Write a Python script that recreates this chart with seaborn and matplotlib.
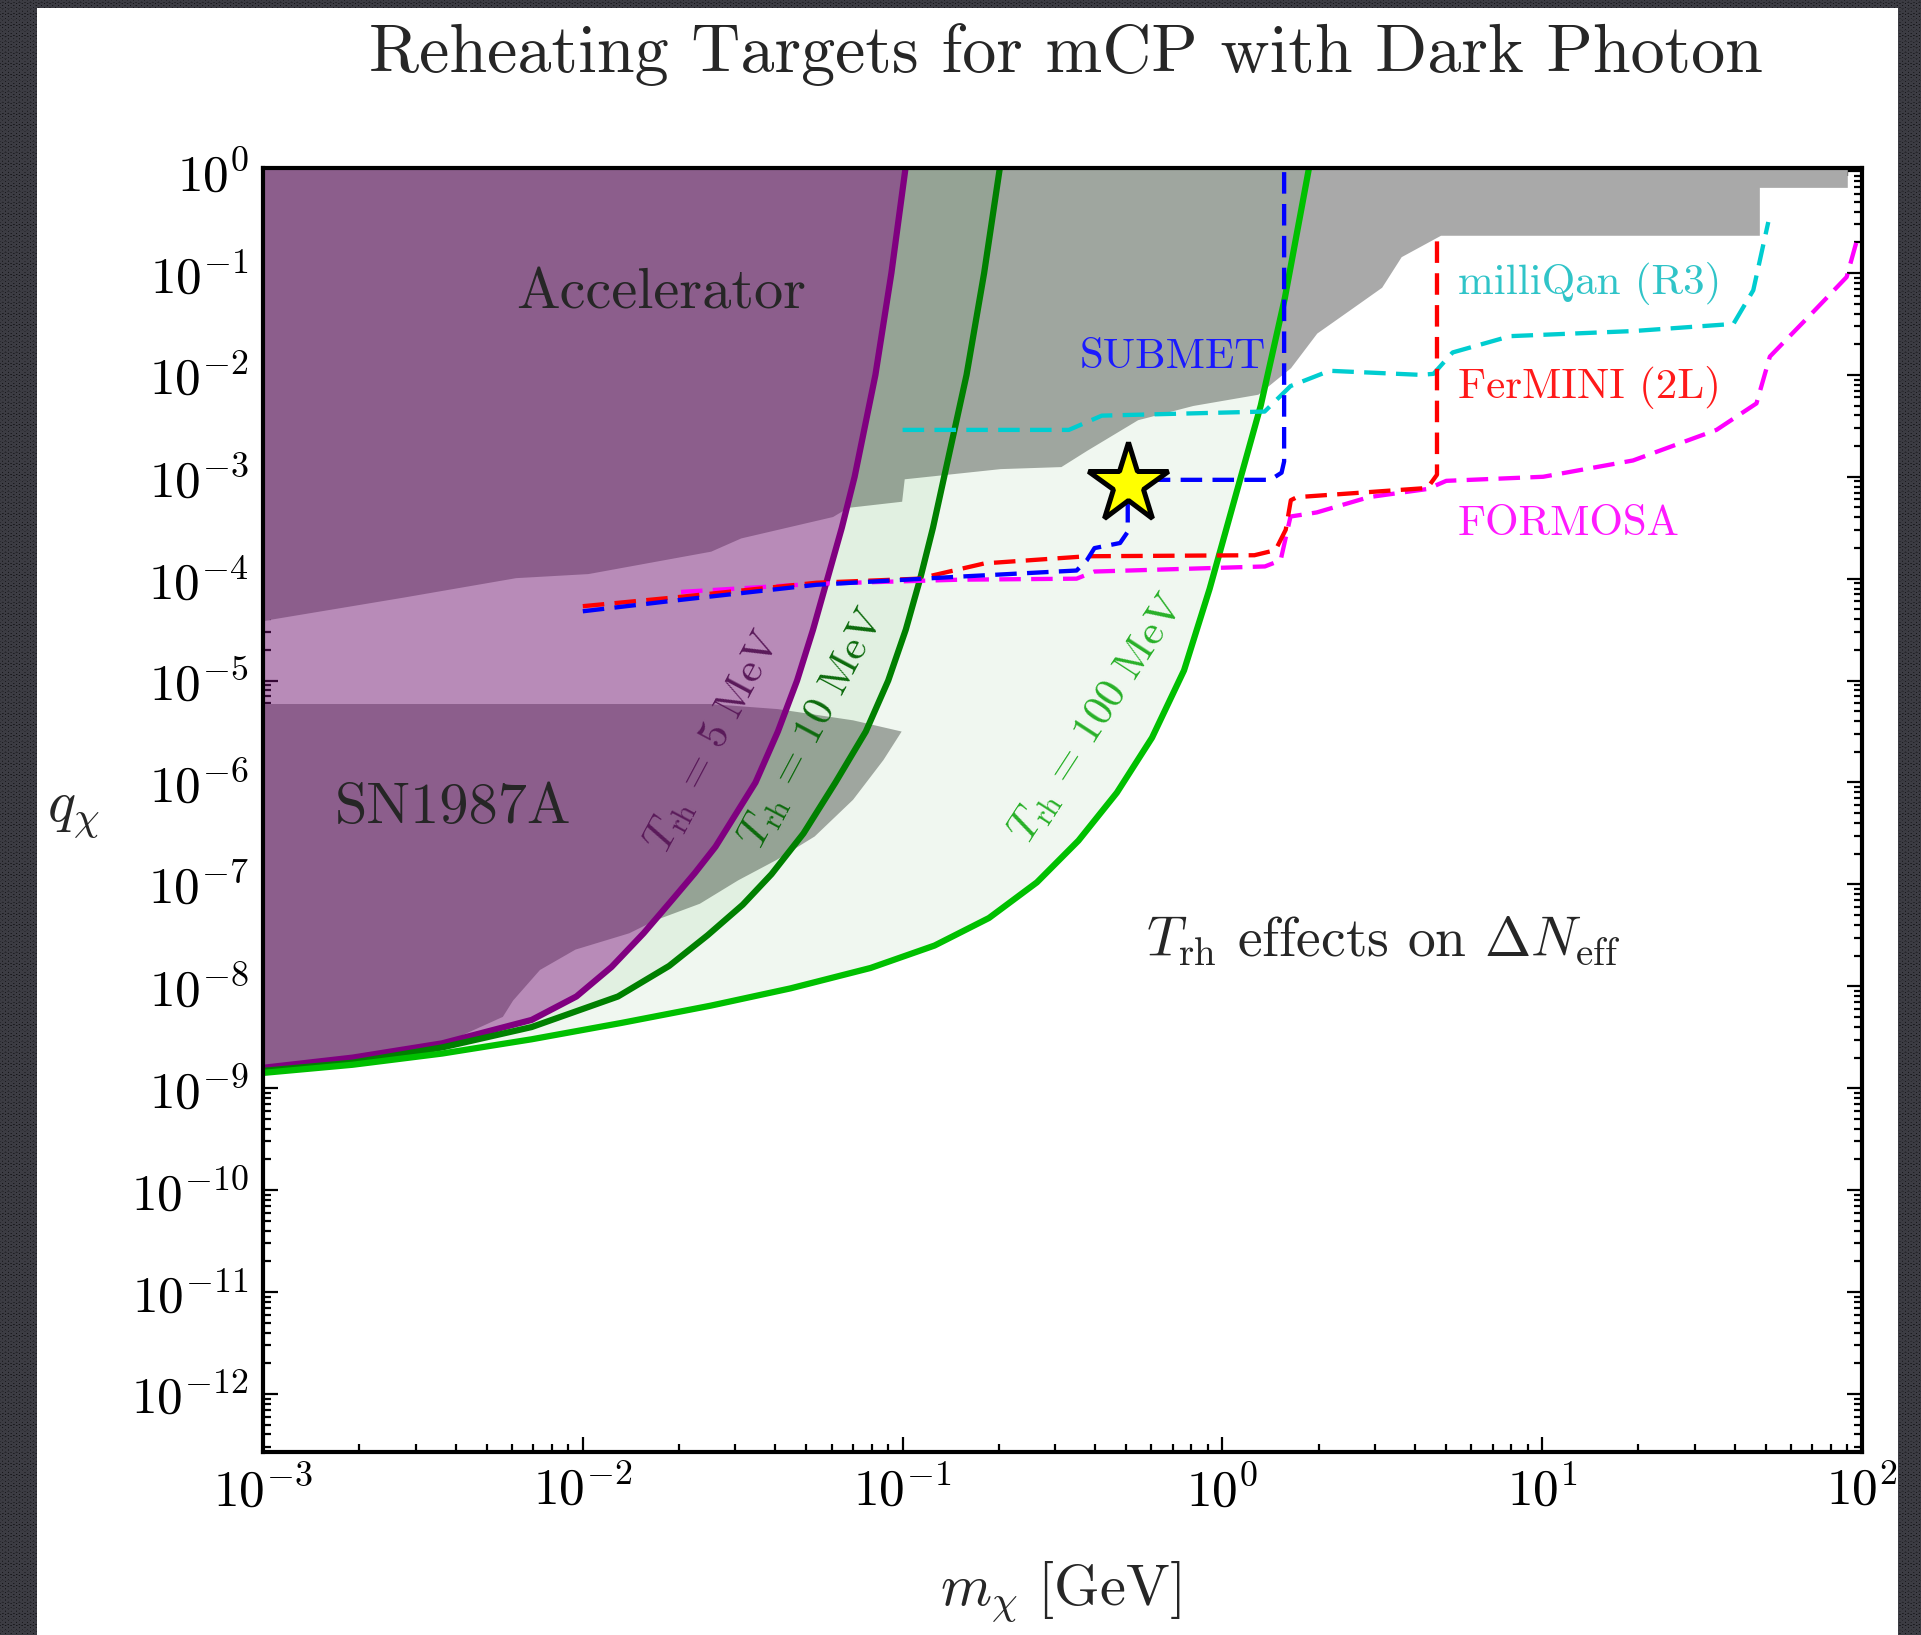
import numpy as np
import pandas as pd
import matplotlib
matplotlib.use("Agg")
import matplotlib.pyplot as plt
import seaborn as sns
from matplotlib.patches import Rectangle
from matplotlib.ticker import LogLocator, NullFormatter

# ---------------- data (log10 of m_chi [GeV], log10 of q_chi) ----------------
# Reheating-temperature contours
trh5_logm = [-3.0, -2.72, -2.44, -2.16, -2.02, -1.91, -1.81, -1.72, -1.65, -1.585,
             -1.46, -1.39, -1.33, -1.28, -1.235, -1.19, -1.15, -1.085, -1.035, -0.99]
trh5_logq = [-8.80, -8.70, -8.56, -8.33, -8.10, -7.81, -7.48, -7.15, -6.89, -6.63,
             -6.00, -5.50, -5.00, -4.50, -4.00, -3.50, -3.00, -2.00, -1.00, 0.05]

trh10_logm = [-3.0, -2.72, -2.44, -2.16, -1.89, -1.73, -1.61, -1.50, -1.41, -1.31,
              -1.21, -1.115, -1.045, -0.99, -0.945, -0.905, -0.87, -0.80, -0.745, -0.695]
trh10_logq = [-8.83, -8.75, -8.60, -8.40, -8.10, -7.80, -7.50, -7.20, -6.90, -6.50,
              -6.00, -5.50, -5.00, -4.50, -4.00, -3.50, -3.00, -2.00, -1.00, 0.05]

trh100_logm = [-3.0, -2.72, -2.44, -2.16, -1.88, -1.60, -1.35, -1.10, -0.90, -0.73,
               -0.58, -0.45, -0.33, -0.22, -0.12, -0.04, 0.04, 0.12, 0.195, 0.272]
trh100_logq = [-8.85, -8.77, -8.66, -8.52, -8.36, -8.19, -8.02, -7.82, -7.60, -7.33,
               -6.98, -6.57, -6.10, -5.56, -4.90, -4.10, -3.20, -2.30, -1.25, 0.05]

# Accelerator exclusion: lower boundary (filled up to the top)
acc_logm = [-3.0, -2.56, -2.21, -1.984, -1.60, -1.506, -1.219, -1.171, -1.003, -0.995,
            -0.695, -0.505, -0.424, -0.265, -0.092, 0.111, 0.213, 0.295, 0.417, 0.498,
            0.559, 0.682, 1.679, 1.679, 1.954]
acc_logq = [-4.41, -4.18, -3.99, -3.95, -3.73, -3.60, -3.39, -3.30, -3.24, -3.02,
            -2.92, -2.90, -2.74, -2.44, -2.30, -2.19, -1.93, -1.59, -1.32, -1.14,
            -0.84, -0.63, -0.63, -0.16, -0.16]

# SN1987A exclusion outline
sn_logm = [-3.0, -1.602, -1.39, -1.155, -1.003, -1.06, -1.155, -1.275, -1.394, -1.514,
           -1.634, -1.771, -1.855, -2.023, -2.134, -2.218, -2.25, -2.44, -2.72, -3.0]
sn_logq = [-5.23, -5.23, -5.28, -5.39, -5.50, -5.78, -6.17, -6.53, -6.76, -6.96,
           -7.19, -7.35, -7.48, -7.64, -7.84, -8.14, -8.30, -8.57, -8.70, -8.80]

# Projected sensitivities
submet_logm = [-2.0, -1.70, -1.27, -0.823, -0.456, -0.424, -0.40, -0.32, -0.296, -0.296,
               0.15, 0.185, 0.193, 0.193]
submet_logq = [-4.32, -4.21, -4.06, -3.98, -3.92, -3.82, -3.70, -3.65, -3.54, -3.03,
               -3.03, -2.96, -2.85, 0.03]

fermini_logm = [-2.0, -1.70, -1.27, -0.95, -0.744, -0.424, 0.10, 0.166, 0.198, 0.214,
                0.233, 0.641, 0.671, 0.671]
fermini_logq = [-4.27, -4.18, -4.04, -4.00, -3.85, -3.78, -3.77, -3.72, -3.52, -3.23,
                -3.20, -3.11, -2.98, -0.67]

formosa_logm = [-1.693, -1.27, -0.823, -0.456, -0.40, 0.133, 0.182, 0.213, 0.295, 0.458,
                0.641, 0.70, 1.003, 1.284, 1.545, 1.67, 1.712, 1.842, 1.952, 1.984]
formosa_logq = [-4.13, -4.05, -4.01, -4.00, -3.93, -3.88, -3.82, -3.39, -3.35, -3.20,
                -3.12, -3.04, -3.00, -2.84, -2.54, -2.28, -1.82, -1.40, -1.04, -0.68]

milliqan_logm = [-1.0, -0.48, -0.377, 0.132, 0.213, 0.335, 0.62, 0.66, 0.72, 0.90,
                 1.285, 1.598, 1.66, 1.707]
milliqan_logq = [-2.54, -2.54, -2.40, -2.36, -2.11, -1.96, -2.0, -1.99, -1.78, -1.62,
                 -1.57, -1.50, -1.17, -0.50]

star_logm = [-0.296]
star_logq = [-3.07]

x_ticks_log = [-3, -2, -1, 0, 1, 2]
y_ticks_log = list(range(-12, 1))

# ---------------- style ----------------
sns.set_theme(style="ticks")
plt.rcParams.update({
    "font.family": "serif",
    "font.serif": ["cmr10", "DejaVu Serif"],
    "mathtext.fontset": "cm",
    "axes.formatter.use_mathtext": True,
    "axes.unicode_minus": False,
    "hatch.linewidth": 1.4,
})

W, H = 1921, 1635
fig = plt.figure(figsize=(W / 100, H / 100), dpi=100)
fig.patch.set_facecolor("white")

# dark textured frame
for (x0, y0, w, h) in [(0, 0, 37, H), (0, H - 8, W, 8), (1898, 0, W - 1898, H)]:
    fig.add_artist(Rectangle((x0 / W, y0 / H), w / W, h / H, transform=fig.transFigure,
                             facecolor="#121215", edgecolor="#3c3c43", hatch="OOO",
                             linewidth=0, zorder=0))

ax = fig.add_axes([263 / W, 1 - 1452 / H, (1862 - 263) / W, (1452 - 168) / H])
ax.set_xscale("log")
ax.set_yscale("log")
YMIN, YMAX = 10 ** -12.57, 10 ** 0.03
ax.set_xlim(1e-3, 1e2)
ax.set_ylim(YMIN, YMAX)
ax.set_facecolor("white")

P = lambda v: 10 ** np.asarray(v, dtype=float)
GRAY = "#a9a9a9"

# exclusion regions
ax.fill_between(P(acc_logm), P(acc_logq), YMAX, color=GRAY, lw=0, zorder=1)
ax.fill(P(sn_logm), P(sn_logq), color=GRAY, lw=0, zorder=1)

# reheating shaded regions
ax.fill_between(P(trh100_logm), P(trh100_logq), YMAX, color=(0, 0.5, 0), alpha=0.06, lw=0, zorder=2)
ax.fill_between(P(trh10_logm), P(trh10_logq), YMAX, color=(0, 0.5, 0), alpha=0.06, lw=0, zorder=2)
ax.fill_between(P(trh5_logm), P(trh5_logq), YMAX, color=(0.5, 0, 0.5), alpha=0.42, lw=0, zorder=3)

def curve(xs, ys, **kw):
    df = pd.DataFrame({"m": P(xs), "q": P(ys)})
    sns.lineplot(data=df, x="m", y="q", sort=False, estimator=None, ax=ax, **kw)

curve(trh5_logm, trh5_logq, color="#800080", lw=4.5, zorder=4, solid_joinstyle="round")
curve(trh10_logm, trh10_logq, color="#008000", lw=4.5, zorder=4, solid_joinstyle="round")
curve(trh100_logm, trh100_logq, color="#00c000", lw=4.5, zorder=4, solid_joinstyle="round")

dash = (0, (5, 2.4))
curve(milliqan_logm, milliqan_logq, color="#00cdd0", lw=3.1, linestyle=dash, zorder=5)
curve(formosa_logm, formosa_logq, color="#ff00ff", lw=3.1, linestyle=dash, zorder=5)
curve(fermini_logm, fermini_logq, color="#ff0000", lw=3.1, linestyle=dash, zorder=5)
curve(submet_logm, submet_logq, color="#0000ff", lw=3.1, linestyle=dash, zorder=5)

ax.plot(P(star_logm), P(star_logq), marker="*", ms=60, mfc="#ffff00", mec="black",
        mew=3.6, ls="none", zorder=6)

# region labels
ax.text(10 ** -1.755, 10 ** -1.21, "Accelerator", fontsize=42, ha="center", va="center", zorder=7)
ax.text(10 ** -2.406, 10 ** -6.25, "SN1987A", fontsize=42, ha="center", va="center", zorder=7)
ax.text(10 ** -0.448, 10 ** -1.83, "SUBMET", fontsize=31, color="#1a1aff", ha="left", va="center", zorder=7)
ax.text(10 ** 0.737, 10 ** -1.10, "milliQan (R3)", fontsize=31, color="#30c4c8", ha="left", va="center", zorder=7)
ax.text(10 ** 0.737, 10 ** -2.12, "FerMINI (2L)", fontsize=31, color="#ff1a1a", ha="left", va="center", zorder=7)
ax.text(10 ** 0.737, 10 ** -3.47, "FORMOSA", fontsize=31, color="#ff1aff", ha="left", va="center", zorder=7)
ax.text(10 ** 0.502, 10 ** -7.55, r"$T_{\rm rh}$ effects on $\Delta N_{\rm eff}$", fontsize=40,
        ha="center", va="center", zorder=7)
ax.text(10 ** -1.59, 10 ** -5.60, r"$T_{\rm rh}\,=\,5\ \mathrm{MeV}$", fontsize=31, rotation=62,
        color="#5a1a5a", ha="center", va="center", rotation_mode="anchor", zorder=7)
ax.text(10 ** -1.281, 10 ** -5.47, r"$T_{\rm rh}\,=\,10\ \mathrm{MeV}$", fontsize=31, rotation=62,
        color="#0c6a0c", ha="center", va="center", rotation_mode="anchor", zorder=7)
ax.text(10 ** -0.389, 10 ** -5.37, r"$T_{\rm rh}\,=\,100\ \mathrm{MeV}$", fontsize=31, rotation=57,
        color="#28b028", ha="center", va="center", rotation_mode="anchor", zorder=7)

# axes cosmetics
ax.set_xticks(P(x_ticks_log))
ax.set_yticks(P(y_ticks_log))
ax.xaxis.set_minor_locator(LogLocator(base=10, subs=np.arange(2, 10), numticks=100))
ax.yaxis.set_minor_locator(LogLocator(base=10, subs=np.arange(2, 10), numticks=100))
ax.xaxis.set_minor_formatter(NullFormatter())
ax.yaxis.set_minor_formatter(NullFormatter())
ax.tick_params(which="both", direction="in", top=True, right=True, colors="black", width=1.6)
ax.tick_params(which="major", length=11, labelsize=37)
ax.tick_params(which="minor", length=6)
ax.tick_params(axis="x", which="major", pad=10)
ax.tick_params(axis="y", which="major", pad=10)
for s in ax.spines.values():
    s.set_linewidth(3)
    s.set_color("black")
    s.set_zorder(8)
ax.set_xlabel("")
ax.set_ylabel("")

fig.text(73 / W, 1 - 815 / H, r"$q_\chi$", fontsize=42, ha="center", va="center")
fig.text(1060 / W, 1 - 1592 / H, r"$m_\chi\ [\mathrm{GeV}]$", fontsize=42, ha="center", va="center")
fig.text(1066 / W, 1 - 55 / H, "Reheating Targets for mCP with Dark Photon", fontsize=49,
         ha="center", va="center")

fig.savefig("out.png", dpi=100, facecolor="white")
